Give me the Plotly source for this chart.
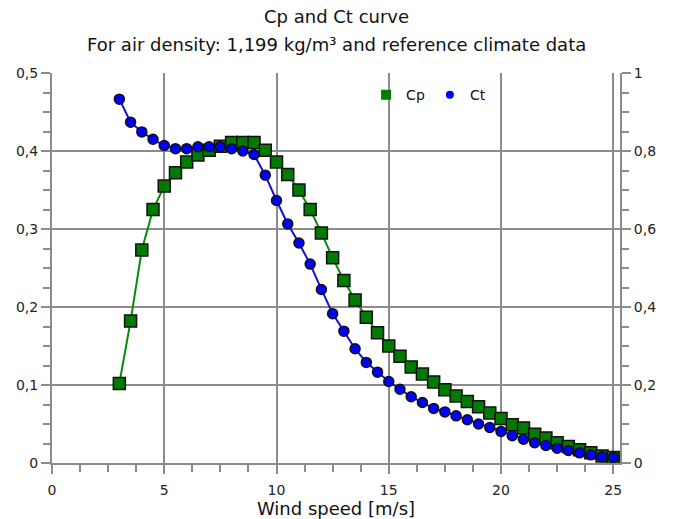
import plotly.graph_objects as go

wind_speed = [3.0, 3.5, 4.0, 4.5, 5.0, 5.5, 6.0, 6.5, 7.0, 7.5, 8.0, 8.5, 9.0, 9.5,
              10.0, 10.5, 11.0, 11.5, 12.0, 12.5, 13.0, 13.5, 14.0, 14.5, 15.0, 15.5,
              16.0, 16.5, 17.0, 17.5, 18.0, 18.5, 19.0, 19.5, 20.0, 20.5, 21.0, 21.5,
              22.0, 22.5, 23.0, 23.5, 24.0, 24.5, 25.0]

cp = [0.102, 0.182, 0.273, 0.325, 0.355, 0.372, 0.386, 0.395, 0.401, 0.406, 0.411,
      0.411, 0.411, 0.401, 0.386, 0.370, 0.350, 0.325, 0.295, 0.263, 0.234, 0.209,
      0.187, 0.167, 0.150, 0.137, 0.123, 0.114, 0.104, 0.094, 0.086, 0.079, 0.072,
      0.064, 0.057, 0.049, 0.045, 0.037, 0.032, 0.026, 0.021, 0.017, 0.013, 0.009,
      0.007]

ct = [0.933, 0.874, 0.849, 0.830, 0.814, 0.806, 0.806, 0.811, 0.811, 0.811, 0.806,
      0.800, 0.791, 0.738, 0.673, 0.613, 0.564, 0.510, 0.445, 0.383, 0.338, 0.293,
      0.258, 0.233, 0.209, 0.189, 0.170, 0.155, 0.140, 0.131, 0.121, 0.111, 0.100,
      0.091, 0.081, 0.070, 0.061, 0.052, 0.045, 0.038, 0.032, 0.026, 0.021, 0.016,
      0.014]

title_line1 = "Cp and Ct curve"
title_line2 = "For air density: 1,199 kg/m³ and reference climate data"
x_title = "Wind speed [m/s]"

FONT = "DejaVu Sans"
GRID = "#8c8c8c"
CP_FILL = "#007a00"
CT_FILL = "#0000ff"

fig = go.Figure()
fig.add_trace(go.Scatter(
    x=wind_speed, y=cp, name="Cp", mode="lines+markers", showlegend=False,
    line=dict(color="#0a8a0a", width=2),
    marker=dict(symbol="square", size=12, color=CP_FILL,
                line=dict(color="#111111", width=1.5)),
    yaxis="y",
))
fig.add_trace(go.Scatter(
    x=wind_speed, y=ct, name="Ct", mode="lines+markers", showlegend=False,
    line=dict(color="#1010e0", width=2),
    marker=dict(symbol="circle", size=10, color=CT_FILL,
                line=dict(color="#111111", width=1.5)),
    yaxis="y2",
))
# legend entries (marker only, as in the original legend)
fig.add_trace(go.Scatter(x=[None], y=[None], name="Cp", mode="markers",
                         marker=dict(symbol="square", size=10, color=CP_FILL), yaxis="y"))
fig.add_trace(go.Scatter(x=[None], y=[None], name="Ct", mode="markers",
                         marker=dict(symbol="circle", size=8, color=CT_FILL), yaxis="y2"))

axis_common = dict(
    showline=True, linecolor=GRID, linewidth=2,
    ticks="outside", ticklen=9, tickwidth=1.5, tickcolor=GRID,
    tickfont=dict(family=FONT, size=14, color="#222222"),
    zeroline=False, automargin=False,
)

fig.update_layout(
    width=675, height=519,
    margin=dict(l=52, r=55, t=73, b=56, autoexpand=False),
    paper_bgcolor="white", plot_bgcolor="white",
    separators=",.",
    font=dict(family=FONT, color="#111111"),
    showlegend=True,
    legend=dict(orientation="h", x=0.553, y=0.943, xanchor="left", yanchor="middle",
                bgcolor="rgba(0,0,0,0)", font=dict(family=FONT, size=14, color="#111111"),
                itemwidth=30, tracegroupgap=0),
    xaxis=dict(
        range=[0, 25.3], tick0=0, dtick=5,
        showgrid=True, gridcolor=GRID, gridwidth=2,
        ticklabelstandoff=4,
        minor=dict(tick0=0, dtick=1.25, ticks="outside", ticklen=7, tickcolor=GRID, showgrid=False),
        title=dict(text=x_title, font=dict(family=FONT, size=18, color="#111111"), standoff=9),
        **axis_common,
    ),
    yaxis=dict(
        range=[0, 0.5], tick0=0, dtick=0.1,
        showgrid=True, gridcolor=GRID, gridwidth=2,
        minor=dict(tick0=0, dtick=0.025, ticks="outside", ticklen=7, tickcolor=GRID, showgrid=False),
        **axis_common,
    ),
    yaxis2=dict(
        range=[0, 1], tick0=0, dtick=0.2, overlaying="y", side="right",
        showgrid=False,
        minor=dict(tick0=0, dtick=0.05, ticks="outside", ticklen=7, tickcolor=GRID, showgrid=False),
        **axis_common,
    ),
    annotations=[
        dict(text=title_line1, xref="paper", yref="paper", x=0.5, y=1.1436,
             xanchor="center", yanchor="middle", showarrow=False,
             font=dict(family=FONT, size=18, color="#111111")),
        dict(text=title_line2, xref="paper", yref="paper", x=0.5, y=1.0741,
             xanchor="center", yanchor="middle", showarrow=False,
             font=dict(family=FONT, size=18, color="#111111")),
    ],
)

fig.write_html("out.html")
